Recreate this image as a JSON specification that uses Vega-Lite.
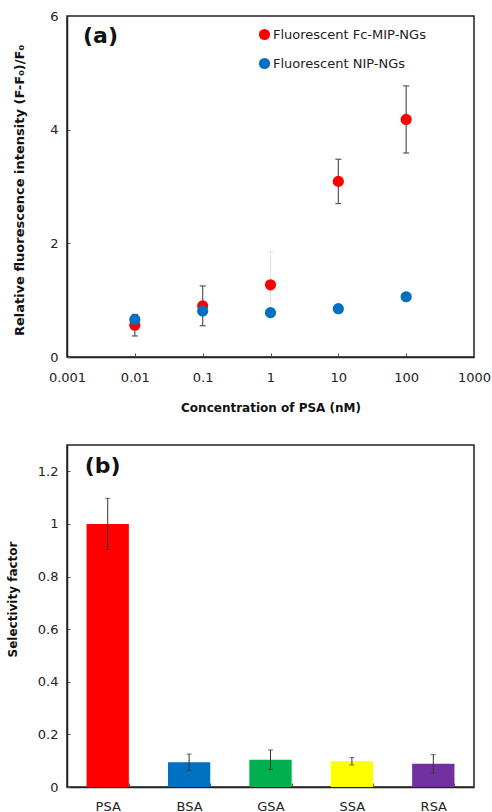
{
  "$schema": "https://vega.github.io/schema/vega-lite/v6.json",
  "padding": {"left": 5, "top": 9, "right": 2, "bottom": 2},
  "background": "white",
  "config": {
    "font": "DejaVu Sans",
    "view": {"stroke": "#222", "strokeWidth": 1.5},
    "axis": {
      "grid": false,
      "domainColor": "#222",
      "domainWidth": 1.5,
      "tickColor": "#555",
      "labelColor": "#222",
      "labelFontSize": 13,
      "titleFontSize": 12,
      "titleFontWeight": "bold",
      "titleColor": "#111",
      "labelOverlap": false,
      "labelFlush": false,
      "labelBound": false
    }
  },
  "resolve": {"scale": {"color": "independent"}, "legend": {"color": "independent"}},
  "spacing": 30,
  "vconcat": [
    {
      "width": 407,
      "height": 341,
      "data": {
        "values": [
          {"conc": 0.01, "value": 0.56, "err": 0.19, "series": "Fluorescent Fc-MIP-NGs"},
          {"conc": 0.1, "value": 0.9, "err": 0.35, "series": "Fluorescent Fc-MIP-NGs"},
          {"conc": 1, "value": 1.27, "err": 0.58, "series": "Fluorescent Fc-MIP-NGs"},
          {"conc": 10, "value": 3.09, "err": 0.39, "series": "Fluorescent Fc-MIP-NGs"},
          {"conc": 100, "value": 4.18, "err": 0.59, "series": "Fluorescent Fc-MIP-NGs"},
          {"conc": 0.01, "value": 0.66, "series": "Fluorescent NIP-NGs"},
          {"conc": 0.1, "value": 0.81, "series": "Fluorescent NIP-NGs"},
          {"conc": 1, "value": 0.78, "series": "Fluorescent NIP-NGs"},
          {"conc": 10, "value": 0.85, "series": "Fluorescent NIP-NGs"},
          {"conc": 100, "value": 1.06, "series": "Fluorescent NIP-NGs"}
        ]
      },
      "layer": [
        {
          "transform": [{"filter": "isValid(datum.err)"}],
          "mark": {"type": "errorbar", "ticks": {"size": 6}, "color": "#555", "thickness": 1.2},
          "encoding": {
            "x": {"field": "conc", "type": "quantitative", "title": "Concentration of PSA (nM)"},
            "y": {"field": "value", "type": "quantitative", "title": "Relative fluorescence intensity (F-F₀)/F₀"},
            "yError": {"field": "err"},
            "opacity": {"condition": {"test": "datum.conc === 1", "value": 0.15}, "value": 1}
          }
        },
        {
          "mark": {"type": "point", "filled": true, "size": 125, "opacity": 1},
          "encoding": {
            "x": {
              "field": "conc", "type": "quantitative",
              "title": "Concentration of PSA (nM)",
              "scale": {"type": "log", "domain": [0.001, 1000]},
              "axis": {
                "values": [0.001, 0.01, 0.1, 1, 10, 100, 1000],
                "format": "~g",
                "tickSize": -4,
                "labelPadding": 18,
                "titlePadding": 18
              }
            },
            "y": {
              "field": "value", "type": "quantitative",
              "title": "Relative fluorescence intensity (F-F₀)/F₀",
              "scale": {"domain": [0, 6], "nice": false},
              "axis": {
                "values": [0, 2, 4, 6],
                "format": "~g",
                "tickSize": -3,
                "labelPadding": 12,
                "titlePadding": 23,
                "titleFontSize": 13,
                "titleY": 174
              }
            },
            "color": {
              "field": "series", "type": "nominal",
              "scale": {"domain": ["Fluorescent Fc-MIP-NGs", "Fluorescent NIP-NGs"], "range": ["#ff0000", "#0070c0"]},
              "legend": {
                "title": null,
                "orient": "none",
                "legendX": 191,
                "legendY": 12,
                "symbolType": "circle",
                "symbolSize": 125,
                "symbolStrokeWidth": 0,
                "labelFontSize": 13,
                "labelColor": "#222",
                "labelOffset": 2,
                "rowPadding": 15,
                "padding": 0
              }
            }
          }
        },
        {
          "data": {"values": [{"panel": "(a)"}]},
          "mark": {"type": "text", "fontSize": 22, "fontWeight": "bold", "color": "#111", "align": "left", "baseline": "middle"},
          "encoding": {
            "x": {"datum": 0.00172, "type": "quantitative"},
            "y": {"datum": 5.65, "type": "quantitative"},
            "text": {"field": "panel"}
          }
        }
      ]
    },
    {
      "width": 407,
      "height": 342,
      "data": {
        "values": [
          {"protein": "PSA", "value": 1.0, "err": 0.097},
          {"protein": "BSA", "value": 0.094, "err": 0.031},
          {"protein": "GSA", "value": 0.104, "err": 0.037},
          {"protein": "SSA", "value": 0.098, "err": 0.014},
          {"protein": "RSA", "value": 0.088, "err": 0.035}
        ]
      },
      "layer": [
        {
          "mark": {"type": "bar"},
          "encoding": {
            "x": {
              "field": "protein", "type": "nominal", "sort": null, "title": null,
              "scale": {"domain": ["PSA", "BSA", "GSA", "SSA", "RSA"], "paddingInner": 0.48, "paddingOuter": 0.24},
              "axis": {"labelAngle": 0, "tickBand": "extent", "tickSize": -4, "labelPadding": 17}
            },
            "y": {
              "field": "value", "type": "quantitative",
              "title": "Selectivity factor",
              "scale": {"domain": [0, 1.3], "nice": false},
              "axis": {
                "values": [0, 0.2, 0.4, 0.6, 0.8, 1, 1.2],
                "format": "~g",
                "tickSize": -3,
                "labelPadding": 12,
                "titlePadding": 18,
                "titleY": 154
              }
            },
            "color": {
              "field": "protein", "type": "nominal",
              "scale": {"domain": ["PSA", "BSA", "GSA", "SSA", "RSA"], "range": ["#ff0000", "#0070c0", "#00b050", "#ffff00", "#7030a0"]},
              "legend": null
            }
          }
        },
        {
          "mark": {"type": "errorbar", "ticks": {"size": 5}, "color": "#333", "thickness": 1},
          "encoding": {
            "x": {"field": "protein", "type": "nominal", "sort": null, "title": null},
            "y": {"field": "value", "type": "quantitative", "title": "Selectivity factor"},
            "yError": {"field": "err"}
          }
        },
        {
          "data": {"values": [{"panel": "(b)"}]},
          "mark": {"type": "text", "fontSize": 22, "fontWeight": "bold", "color": "#111", "align": "left", "baseline": "middle", "dx": -23},
          "encoding": {
            "x": {"datum": "PSA", "type": "nominal"},
            "y": {"datum": 1.22, "type": "quantitative"},
            "text": {"field": "panel"}
          }
        }
      ]
    }
  ]
}
